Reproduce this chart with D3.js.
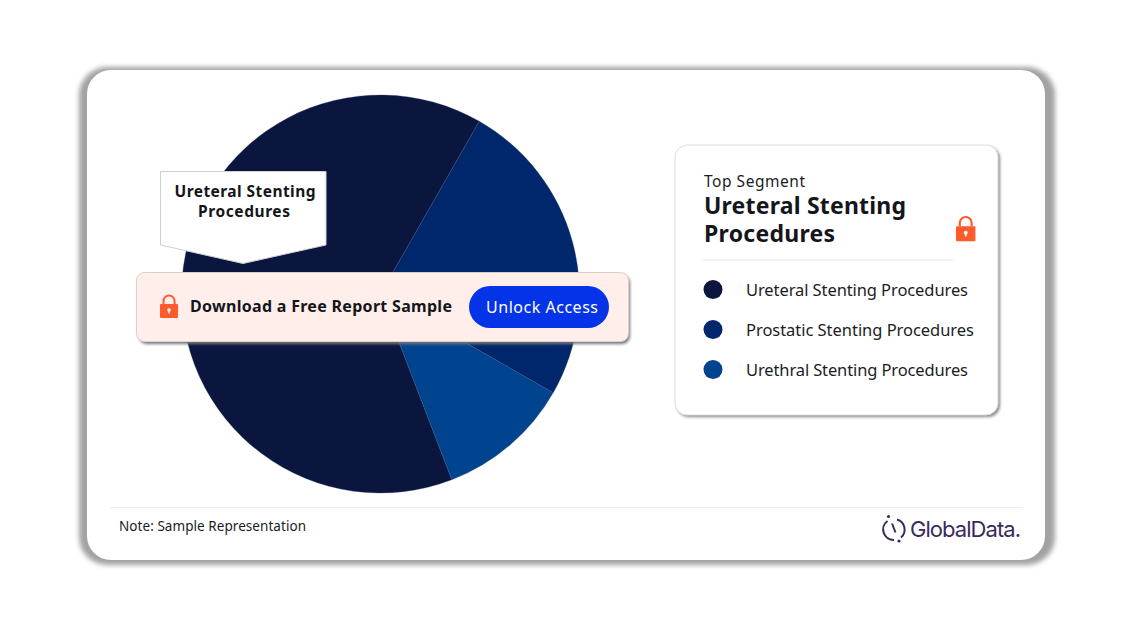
<!DOCTYPE html>
<html><head><meta charset="utf-8">
<script src="https://cdn.jsdelivr.net/npm/d3@7"></script>
<style>html,body{margin:0;padding:0;background:#fff;overflow:hidden}svg{display:block}</style>
</head><body><svg id="c" width="1140" height="641"></svg>
<script>
const categories = ["Ureteral Stenting Procedures","Prostatic Stenting Procedures","Urethral Stenting Procedures"];
const values = [64.1, 25, 10.9];
const colors = ["#0b163f","#00266b","#00448f"];
const legendWidths = [222,228,222];
const topSegment = ["Ureteral Stenting","Procedures"];
const FONT='"Noto Sans", Roboto, sans-serif';
const svg=d3.select("#c");
const defs=svg.append("defs");
function blur(id,s){defs.append("filter").attr("id",id).attr("x","-10%").attr("y","-10%").attr("width","120%").attr("height","120%").append("feGaussianBlur").attr("stdDeviation",s);}
blur("b3",2.6);blur("b1",1.5);

// outer card
svg.append("rect").attr("x",79).attr("y",67).attr("width",976).attr("height",498).attr("rx",28).attr("fill","#a2a2a2").attr("filter","url(#b3)");
svg.append("rect").attr("x",87).attr("y",70).attr("width",958).attr("height",490).attr("rx",24).attr("fill","#fff");

// pie
const toRad=d=>d*Math.PI/180;
const pie=d3.pie().sort(null).startAngle(toRad(159)).endAngle(toRad(519));
const arc=d3.arc().innerRadius(0).outerRadius(199);
svg.append("g").attr("transform","translate(380.5,294)").selectAll("path").data(pie(values)).join("path")
  .attr("d",arc).attr("fill",(d,i)=>colors[i]).attr("stroke","#3d4d75").attr("stroke-width",0.3);

// callout
svg.append("path").attr("d","M160.5 171.5H326V245L243 263.5L160.5 245Z").attr("fill","#fff").attr("stroke","#d0d0d0").attr("stroke-width",1);
function txt(x,y,s,size,weight,fill,anchor,w){const t=svg.append("text").attr("x",x).attr("y",y).text(s).attr("font-size",size).attr("font-weight",weight).attr("fill",fill).attr("text-anchor",anchor||"start").style("font-family",FONT);if(w)t.attr("textLength",w).attr("lengthAdjust","spacing");return t;}
txt(245,196.5,topSegment[0],15.5,700,"#14161c","middle",141);
txt(244,216.5,topSegment[1],15.5,700,"#14161c","middle",92);

// lock icon
function lock(x,y,s){const g=svg.append("g").attr("transform",`translate(${x},${y}) scale(${s})`);
 g.append("path").attr("d","M3.5 9V6a5.5 5.5 0 0 1 11 0V9").attr("fill","none").attr("stroke","#ff5a2c").attr("stroke-width",2);
 g.append("rect").attr("x",0).attr("y",9).attr("width",18).attr("height",14).attr("rx",1).attr("fill","#ff5a2c");
 g.append("circle").attr("cx",9).attr("cy",15).attr("r",1.8).attr("fill","#fff");
 g.append("rect").attr("x",8.3).attr("y",15).attr("width",1.4).attr("height",3.5).attr("fill","#fff");}

// banner
svg.append("rect").attr("x",139).attr("y",275).attr("width",491).attr("height",69).attr("rx",8).attr("fill","#777").attr("filter","url(#b1)");
svg.append("rect").attr("x",136.5).attr("y",272.5).attr("width",492).attr("height",69).attr("rx",8).attr("fill","#ffeeea").attr("stroke","#d8d0ce").attr("stroke-width",1);
lock(160,295,1);
txt(190,311.5,"Download a Free Report Sample",16,700,"#14161c","start",262);
svg.append("rect").attr("x",469).attr("y",286).attr("width",140).attr("height",42).attr("rx",21).attr("fill","#0433e8");
txt(486,312.5,"Unlock Access",16,400,"#fff","start",112);

// side panel
svg.append("rect").attr("x",677).attr("y",147).attr("width",323).attr("height",270).attr("rx",12).attr("fill","#888").attr("filter","url(#b1)");
svg.append("rect").attr("x",675).attr("y",145).attr("width",323).attr("height",270).attr("rx",12).attr("fill","#fff").attr("stroke","#dedede").attr("stroke-width",1);
txt(704,187,"Top Segment",15.5,400,"#1b1d24","start",101);
txt(704,214,topSegment[0],23,700,"#14161c","start",202);
txt(704,242,topSegment[1],23,700,"#14161c","start",131);
lock(956,216.5,1.08);
svg.append("line").attr("x1",703).attr("x2",953).attr("y1",260).attr("y2",260).attr("stroke","#efefef").attr("stroke-width",1.5);
const y=d3.scalePoint().domain(categories).range([290,370]);
const leg=svg.append("g").selectAll("g").data(categories).join("g");
leg.append("circle").attr("cx",713).attr("cy",d=>y(d)-0.5).attr("r",9.5).attr("fill",(d,i)=>colors[i]);
leg.append("text").attr("x",746).attr("y",d=>y(d)+6).text(d=>d).attr("font-size",16.5).attr("fill","#1b1d24").style("font-family",FONT).attr("font-weight",400)
  .attr("textLength",(d,i)=>legendWidths[i]).attr("lengthAdjust","spacing");

// footer
svg.append("line").attr("x1",110).attr("x2",1022).attr("y1",507.5).attr("y2",507.5).attr("stroke","#eeeeee").attr("stroke-width",1);
txt(119,531,"Note: Sample Representation",13.5,400,"#1b1d24","start",187);
const lg=svg.append("g").attr("transform","translate(894,529.5)").attr("fill","none").attr("stroke","#3a2a5c").attr("stroke-width",2);
lg.append("path").attr("d","M-6.5 -8.5A10.5 10.5 0 0 0 0 10.5");
lg.append("path").attr("d","M3 -10A10.5 10.5 0 0 1 7 8");
lg.append("path").attr("d","M-2 -6L1.5 3");
svg.append("circle").attr("cx",888.5).attr("cy",516.5).attr("r",1.6).attr("fill","#3a2a5c");
svg.append("circle").attr("cx",899).attr("cy",541).attr("r",1.6).attr("fill","#3a2a5c");
txt(910,537,"GlobalData.",22,400,"#3a2a5c","start",111).style("font-family","Inter, sans-serif");
</script></body></html>
